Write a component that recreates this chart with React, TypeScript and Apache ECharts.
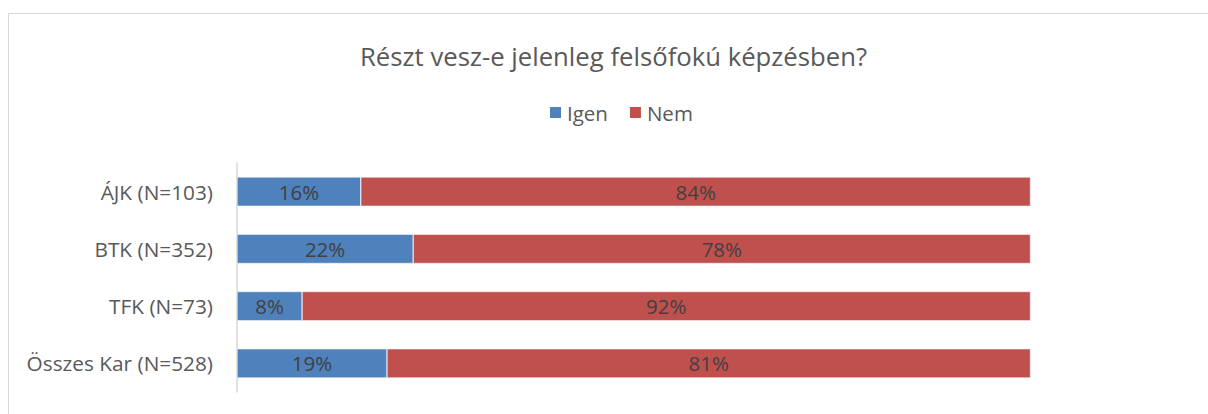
import React, { useEffect, useRef } from "react";
import * as echarts from "echarts";

const categories = ["ÁJK (N=103)", "BTK (N=352)", "TFK (N=73)", "Összes Kar (N=528)"];
const igenValues = [15.6, 22.2, 8.2, 18.9];
const nemValues = [84.4, 77.8, 91.8, 81.1];
const seriesNames = ["Igen", "Nem"];
const titleText = "Részt vesz-e jelenleg felsőfokú képzésben?";

const FONT = "'Open Sans', 'Noto Sans', sans-serif";

export default function App() {
  const ref = useRef<HTMLDivElement>(null);
  useEffect(() => {
    if (!ref.current) return;
    const chart = echarts.init(ref.current, null, { renderer: "svg" });
    const label = {
      show: true,
      position: "inside",
      color: "#404040",
      fontSize: 20.5,
      fontFamily: FONT,
      formatter: (p: any) => Math.round(p.value) + "%",
    };
    chart.setOption({
      animation: false,
      backgroundColor: "#ffffff",
      textStyle: { fontFamily: FONT },
      title: {
        text: titleText,
        left: 355,
        top: 38,
        textStyle: { color: "#595959", fontSize: 25.7, fontWeight: "normal", fontFamily: FONT },
      },
      legend: {
        data: seriesNames,
        left: 543,
        top: 97,
        itemWidth: 13,
        itemHeight: 13,
        itemGap: 20,
        icon: "rect",
        textStyle: { color: "#595959", fontSize: 20.5, fontFamily: FONT },
      },
      graphic: [
        {
          type: "rect",
          shape: { x: 8.5, y: 13.5, width: 1300, height: 500 },
          style: { fill: "none", stroke: "#d9d9d9", lineWidth: 1 },
          silent: true,
        },
      ],
      grid: { left: 237, right: 177.5, top: 163, bottom: 22, containLabel: false },
      xAxis: {
        type: "value",
        min: 0,
        max: 100,
        show: false,
      },
      yAxis: {
        type: "category",
        data: categories,
        inverse: true,
        axisLine: { show: true, lineStyle: { color: "#d9d9d9", width: 1.5 } },
        axisTick: { show: false },
        axisLabel: { color: "#595959", fontSize: 20.8, fontFamily: FONT, margin: 24 },
      },
      series: [
        {
          name: seriesNames[0],
          type: "bar",
          stack: "total",
          data: igenValues,
          barCategoryGap: "49%",
          itemStyle: { color: "#4f81bd", borderColor: "#ffffff", borderWidth: 0.5 },
          label,
        },
        {
          name: seriesNames[1],
          type: "bar",
          stack: "total",
          data: nemValues,
          barCategoryGap: "49%",
          itemStyle: { color: "#c0504d", borderColor: "#ffffff", borderWidth: 0.5 },
          label,
        },
      ],
    });
    return () => chart.dispose();
  }, []);
  return (
    <div
      ref={ref}
      style={{ position: "absolute", left: 0, top: 0, width: 1208, height: 414 }}
    />
  );
}
